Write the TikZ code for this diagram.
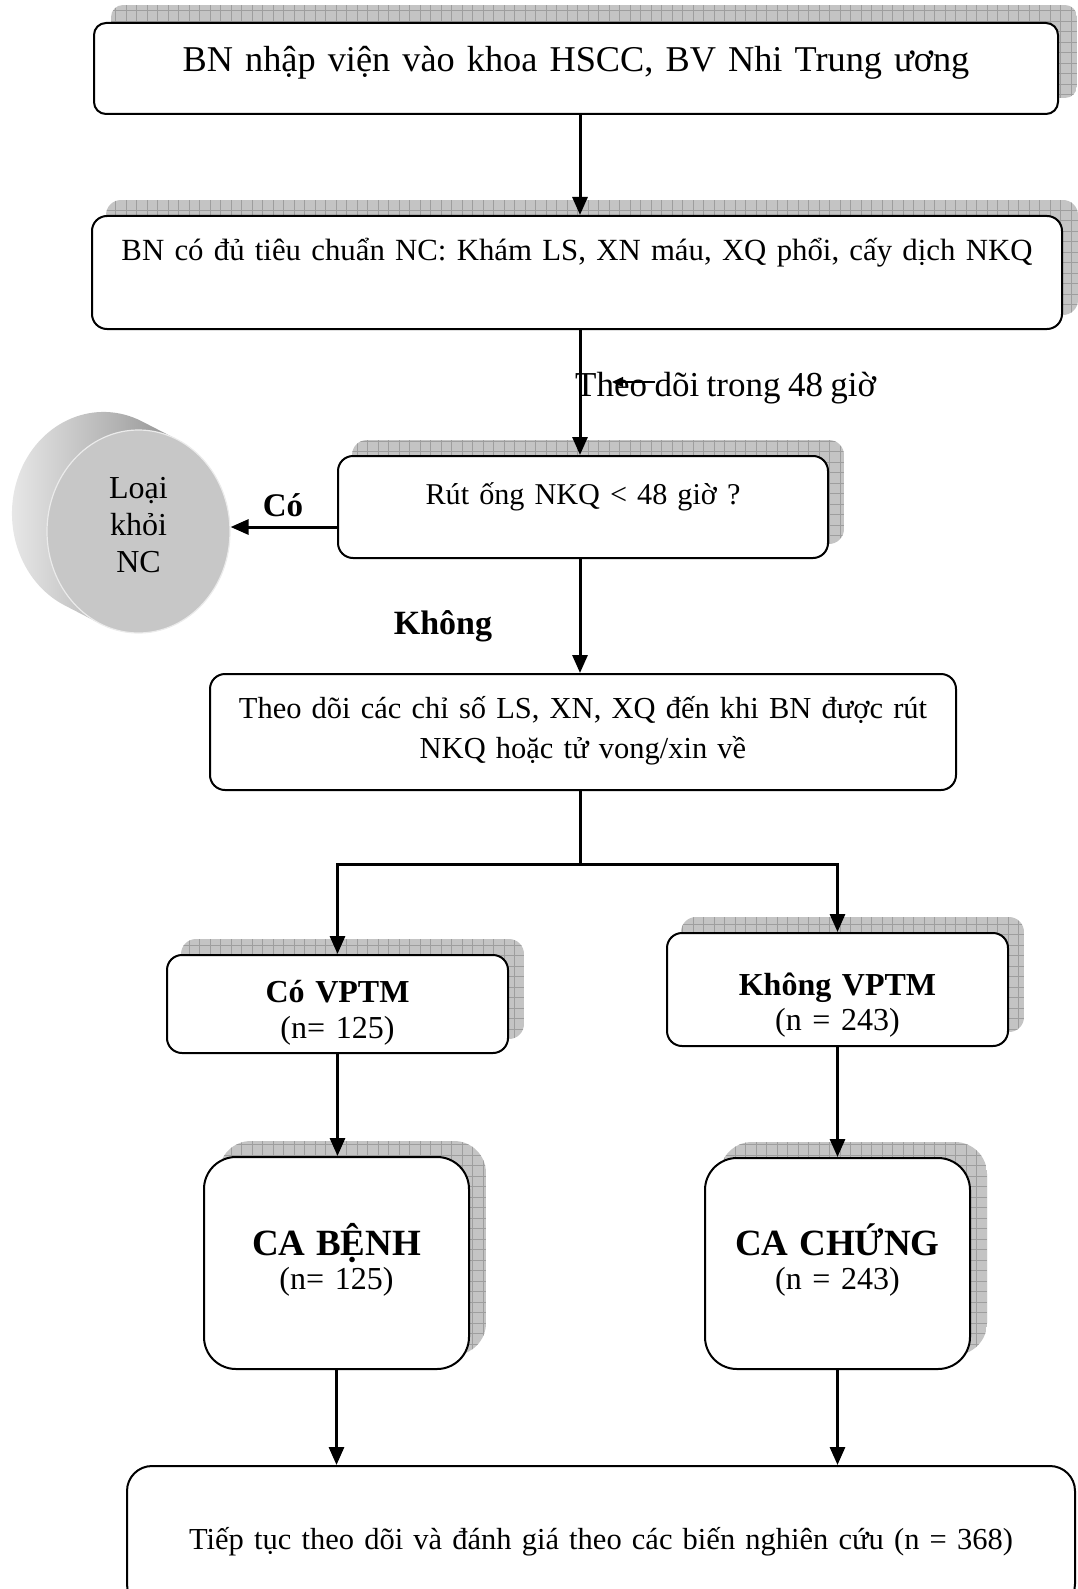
\documentclass[tikz,border=0pt]{standalone}
\usepackage{fontspec}
\setmainfont{Liberation Serif}[WordSpace={0.85,0,0}]
\usetikzlibrary{arrows.meta,backgrounds,shapes.geometric}
\newcommand\fsz[2]{\fontsize{#1}{#2}\selectfont}
\tikzset{
  box/.style={draw=black, line width=2pt, fill=white, rounded corners=#1, inner sep=0pt, align=center, font=\fsz{30.5}{36}},
  box/.default=15pt,
  arr/.style={line width=3pt, -{Triangle[width=15pt,length=18pt]}},
  conn/.style={line width=3pt},
  shadowfill/.style={fill=black!23},
  shadowgrid/.style={draw=black!38, line width=0.5pt},
  lbl/.style={inner sep=0pt, anchor=base},
}
\newcommand\boxshade[4]{%
  \begin{scope}[on background layer]
    \begin{scope}
      \clip[rounded corners=#4] ([shift={(#2,#3)}]#1.south west) rectangle ([shift={(#2,#3)}]#1.north east);
      \fill[shadowfill] ([shift={(#2,#3)}]#1.south west) rectangle ([shift={(#2,#3)}]#1.north east);
      \draw[shadowgrid, step=10.5pt] ([shift={(#2,#3)}]#1.south west) grid ([shift={(#2,#3)}]#1.north east);
    \end{scope}
  \end{scope}}
\begin{document}
\begin{tikzpicture}[x=1pt,y=-1pt]
\useasboundingbox (0,0) rectangle (1077,1589);

% boxes
\node[box=12pt, anchor=north, text width=964pt, text height=49pt, text depth=42pt, font=\fsz{36.3}{44}] (b1) at (576,22) {BN nhập viện vào khoa HSCC, BV Nhi Trung ương};
\node[box, anchor=north, text width=970pt, text height=45pt, text depth=68pt, font=\fsz{30.8}{36}] (b2) at (577,215) {BN có đủ tiêu chuẩn NC: Khám LS, XN máu, XQ phổi, cấy dịch NKQ};
\node[box, anchor=north, text width=490pt, text height=48pt, text depth=54pt, font=\fsz{30.2}{36}] (b3) at (583,455) {Rút ống NKQ < 48 giờ ?};
\node[box, anchor=north, text width=746pt, text height=44pt, text depth=72pt, font=\fsz{30.5}{40}] (b4) at (583,673) {Theo dõi các chỉ số LS, XN, XQ đến khi BN được rút\\NKQ hoặc tử vong/xin về};
\node[box, anchor=north, text width=341pt, text height=47pt, text depth=51pt, font=\fsz{32}{36}] (b5) at (337.5,954) {\textbf{Có VPTM}\\(n= 125)};
\node[box, anchor=north, text width=341pt, text height=62pt, text depth=51pt, font=\fsz{32}{35}] (b6) at (837.5,932) {\textbf{Không VPTM}\\(n = 243)};
\node[box=32pt, anchor=north, text width=265pt, text height=98pt, text depth=114pt, font=\fsz{32}{34}] (b7) at (336.5,1156) {{\fsz{37}{40}\bfseries CA BỆNH}\\(n= 125)};
\node[box=32pt, anchor=north, text width=265pt, text height=97pt, text depth=114pt, font=\fsz{32}{34}] (b8) at (837.5,1157) {{\fsz{37}{40}\bfseries CA CHỨNG}\\(n = 243)};
\node[box=25pt, anchor=north, text width=948pt, text height=83pt, text depth=60pt] (b9) at (601,1465) {Tiếp tục theo dõi và đánh giá theo các biến nghiên cứu (n = 368)};

% shadows
\boxshade{b1}{18}{-17}{12pt}
\boxshade{b2}{15}{-15}{15pt}
\boxshade{b3}{15}{-15}{15pt}
\boxshade{b5}{15}{-15}{15pt}
\boxshade{b6}{15}{-15}{15pt}
\boxshade{b7}{16}{-15}{32pt}
\boxshade{b8}{16}{-15}{32pt}

% cylinder
\begin{scope}[shift={(138.5,531.5)}, y=1pt]
  \shade[left color=black!7, right color=black!42] (3.5,110.1) arc[start angle=65.1, end angle=245.1, x radius=91.5, y radius=101.5] -- (-38.5,-92.1) -- (38.5,92.1) -- cycle;
\end{scope}
\node[ellipse, minimum width=183pt, minimum height=203pt, inner sep=0pt, fill=black!22, draw=black!8, line width=1.2pt, align=center, font=\fsz{32}{37}, text depth=14pt] (cyl) at (138.5,531.5) {Loại\\khỏi\\NC};

% labels
\node[lbl, anchor=base west, font=\fsz{35}{40}] (l48) at (575,396) {Theo dõi trong 48 giờ};
\node[lbl, font=\fsz{33}{40}\bfseries] (lco) at (283,516) {Có};
\node[lbl, font=\fsz{34}{40}\bfseries] (lkh) at (443,634) {Không};

% connectors
\coordinate (xA) at (580,0);
\coordinate (yJ) at (0,864);
\coordinate (yC) at (0,527);
\draw[arr] (b1.south -| xA) -- (b2.north -| xA);
\draw[arr] (b2.south -| xA) -- (b3.north -| xA);
\draw[arr] (b3.south -| xA) -- (b4.north -| xA);
\draw[arr] (b3.west |- yC) -- (cyl.east |- yC);
\draw[arr] (xA |- yJ) -- (b5.north |- yJ) -- (b5.north);
\draw[arr] (b4.south -| xA) -- (xA |- yJ) -- (b6.north |- yJ) -- (b6.north);
\draw[arr] (b5.south) -- (b5.south |- b7.north);
\draw[arr] (b6.south) -- (b6.south |- b8.north);
\draw[arr] (b7.south) -- (b7.south |- b9.north);
\draw[arr] (b8.south) -- (b8.south |- b9.north);
\coordinate (sa1) at (655,382);
\coordinate (sa2) at (612,382);
\draw[line width=1.5pt, -{Triangle[width=10pt,length=11pt]}] (sa1) -- (sa2);
\end{tikzpicture}
\end{document}
